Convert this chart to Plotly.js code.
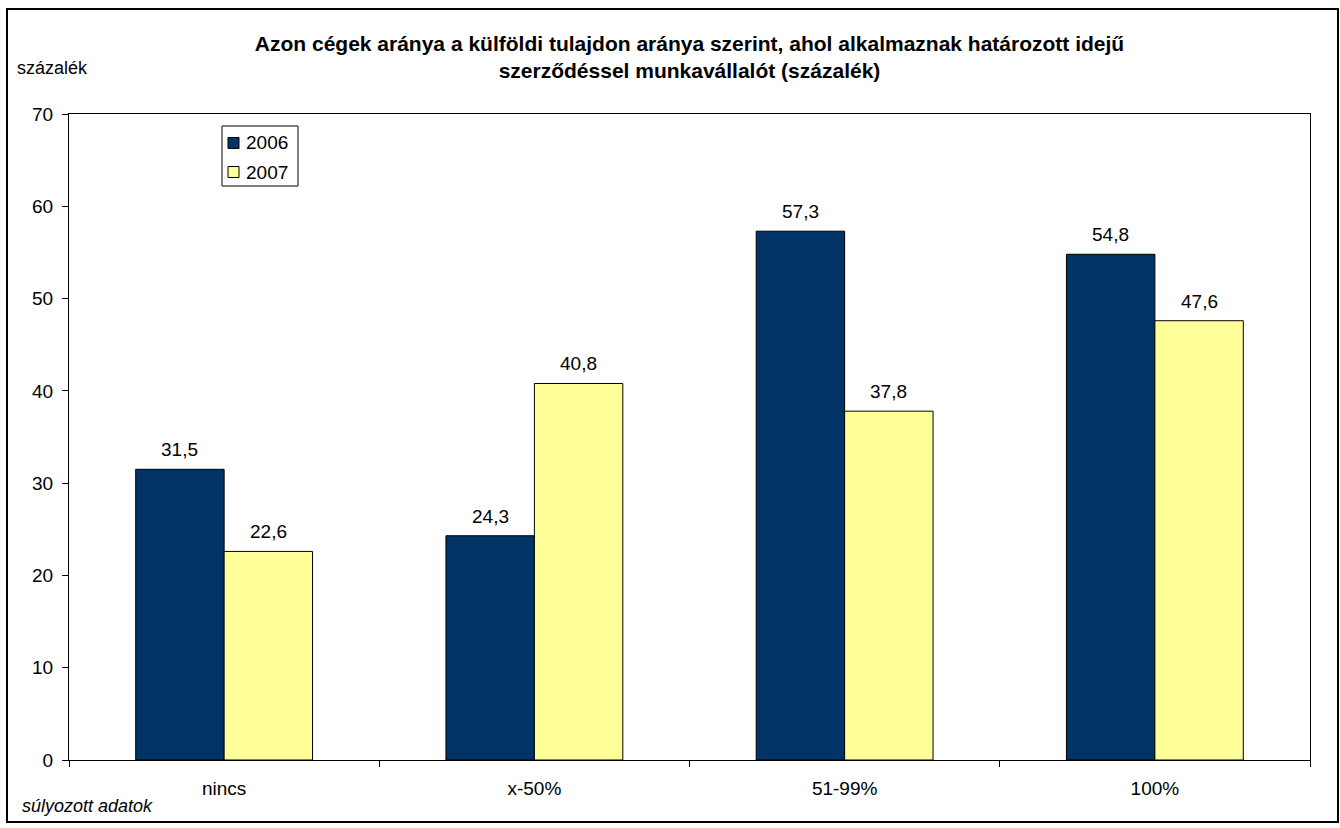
<!DOCTYPE html>
<html>
<head>
<meta charset="utf-8">
<script src="https://cdn.plot.ly/plotly-3.0.1.min.js"></script>
<style>html,body{margin:0;padding:0;background:#fff;}#chart{width:1340px;height:828px;}</style>
</head>
<body>
<div id="chart"></div>
<script>
const categories = ['nincs', 'x-50%', '51-99%', '100%'];
const series2006 = [31.5, 24.3, 57.3, 54.8];
const series2007 = [22.6, 40.8, 37.8, 47.6];
const seriesNames = ['2006', '2007'];
const seriesColors = ['#003366', '#FFFF99'];
const yTicks = [0, 10, 20, 30, 40, 50, 60, 70];

const fmt = v => v.toFixed(1).replace('.', ',');
const FONT = 'Liberation Sans, Arial, sans-serif';
const LABEL_SIZE = 19;

const allSeries = [series2006, series2007];

const traces = allSeries.map((vals, i) => ({
  type: 'bar', name: seriesNames[i], x: categories, y: vals,
  marker: {color: seriesColors[i], line: {color: '#000', width: 1}},
  showlegend: false
}));

const L = 69, R = 1310, T = 114, B = 760;
const px = x => (x - L) / (R - L);
const py = y => (B - y) / (B - T);

const BARGAP = 0.43;
const catW = (R - L) / categories.length;
const barW = catW * (1 - BARGAP) / 2;

// data labels above each bar
const labelAnns = [];
allSeries.forEach((vals, i) => {
  vals.forEach((v, j) => {
    labelAnns.push({
      x: categories[j], y: v, xref: 'x', yref: 'y',
      text: fmt(v), showarrow: false, xanchor: 'center', yanchor: 'bottom',
      xshift: (i === 0 ? -1 : 1) * barW / 2, yshift: 7,
      font: {family: FONT, size: LABEL_SIZE, color: '#000'}
    });
  });
});

// custom legend (box, swatches, labels)
const legendShapes = [
  {type: 'rect', xref: 'paper', yref: 'paper', x0: px(222), x1: px(298), y0: py(186), y1: py(126),
   line: {color: '#000', width: 1}, fillcolor: '#fff'}
];
const legendAnns = [];
seriesNames.forEach((name, i) => {
  const cy = 143 + i * 29;
  legendShapes.push({type: 'rect', xref: 'paper', yref: 'paper', x0: px(228), x1: px(239),
    y0: py(cy + 5.5), y1: py(cy - 5.5), line: {color: '#000', width: 1}, fillcolor: seriesColors[i]});
  legendAnns.push({text: name, xref: 'paper', yref: 'paper', x: px(244), y: py(cy), xanchor: 'left', yanchor: 'middle',
    showarrow: false, font: {family: FONT, size: LABEL_SIZE, color: '#000'}});
});

const layout = {
  width: 1340, height: 828,
  margin: {l: L, r: 1340 - R, t: T, b: 828 - B, pad: 0},
  paper_bgcolor: '#fff', plot_bgcolor: '#fff',
  font: {family: FONT, size: LABEL_SIZE, color: '#000'},
  barmode: 'group', bargap: BARGAP, bargroupgap: 0,
  showlegend: false,
  title: {
    text: '<b>Azon cégek aránya a külföldi tulajdon aránya szerint, ahol alkalmaznak határozott idejű<br>szerződéssel munkavállalót (százalék)</b>',
    font: {family: FONT, size: 21, color: '#000'},
    x: 0.5, xref: 'paper', xanchor: 'center', y: 1 - 51 / 828, yanchor: 'top'
  },
  xaxis: {
    type: 'category', showgrid: false, showline: true, linecolor: '#000', linewidth: 1,
    mirror: true, ticks: 'outside', ticklen: 6, tickcolor: '#000', tickson: 'boundaries',
    tickfont: {family: FONT, size: LABEL_SIZE}, zeroline: false, ticklabelstandoff: 11
  },
  yaxis: {
    range: [0, 70], tickvals: yTicks, showgrid: false, showline: true, linecolor: '#000', linewidth: 1,
    mirror: true, ticks: 'outside', ticklen: 6, tickcolor: '#000',
    tickfont: {family: FONT, size: LABEL_SIZE}, zeroline: false, ticklabelstandoff: 5
  },
  shapes: [
    {type: 'rect', xref: 'paper', yref: 'paper', x0: px(7), x1: px(1338), y0: py(822), y1: py(9),
     line: {color: '#000', width: 2}, fillcolor: 'rgba(0,0,0,0)', layer: 'below'}
  ].concat(legendShapes),
  annotations: [
    {text: 'százalék', xref: 'paper', yref: 'paper', x: px(15), y: py(68), xanchor: 'left', yanchor: 'middle',
     showarrow: false, font: {family: FONT, size: 18, color: '#000'}},
    {text: '<i>súlyozott adatok</i>', xref: 'paper', yref: 'paper', x: px(20), y: py(806), xanchor: 'left', yanchor: 'middle',
     showarrow: false, font: {family: FONT, size: 18, color: '#000'}}
  ].concat(labelAnns, legendAnns)
};

Plotly.newPlot('chart', traces, layout, {displayModeBar: false, staticPlot: true});
</script>
</body>
</html>
